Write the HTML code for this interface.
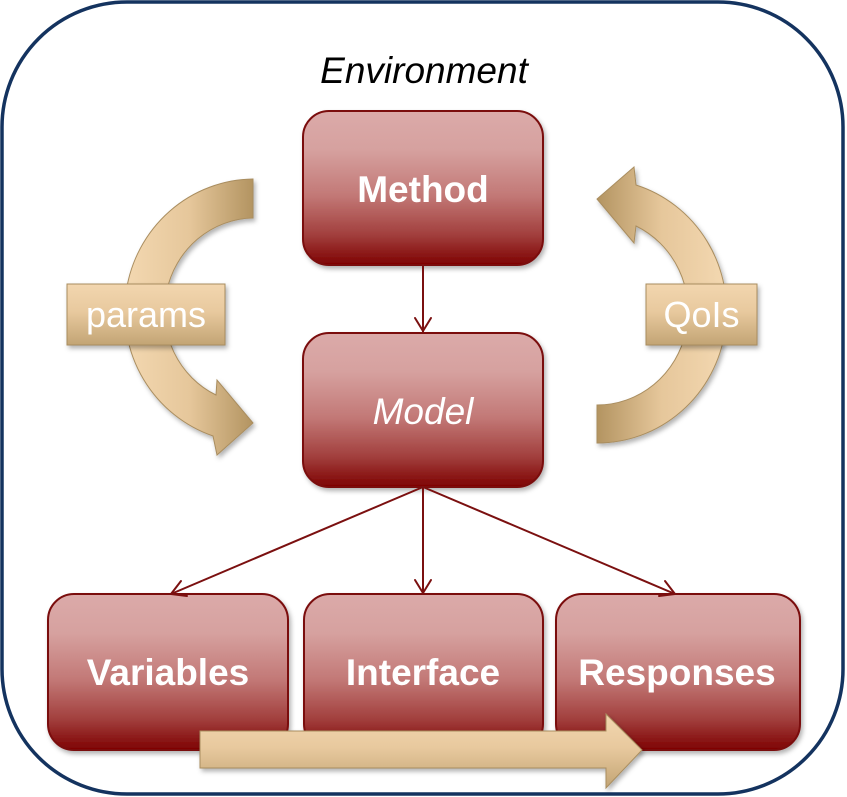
<!DOCTYPE html>
<html>
<head>
<meta charset="utf-8">
<style>
html,body{margin:0;padding:0;background:#fff;}
svg{display:block;}
text{font-family:"Liberation Sans",Arial,sans-serif;}
</style>
</head>
<body>
<svg width="847" height="797" viewBox="0 0 847 797" xmlns="http://www.w3.org/2000/svg">
<defs>
  <linearGradient id="red" x1="0" y1="0" x2="0" y2="1">
    <stop offset="0" stop-color="#dbaaa9"/>
    <stop offset="0.25" stop-color="#d6a19f"/>
    <stop offset="0.55" stop-color="#c27876"/>
    <stop offset="0.8" stop-color="#a2403e"/>
    <stop offset="1" stop-color="#7e0202"/>
  </linearGradient>
  <linearGradient id="tanV" x1="0" y1="0" x2="0" y2="1">
    <stop offset="0" stop-color="#f2d6af"/>
    <stop offset="0.45" stop-color="#e8c99e"/>
    <stop offset="1" stop-color="#c2a474"/>
  </linearGradient>
  <linearGradient id="tanL" gradientUnits="userSpaceOnUse" x1="125" y1="0" x2="253" y2="0">
    <stop offset="0" stop-color="#f3d8b1"/>
    <stop offset="0.5" stop-color="#e6c79b"/>
    <stop offset="1" stop-color="#b39461"/>
  </linearGradient>
  <linearGradient id="tanR" gradientUnits="userSpaceOnUse" x1="597" y1="0" x2="726" y2="0">
    <stop offset="0" stop-color="#b39461"/>
    <stop offset="0.5" stop-color="#e6c79b"/>
    <stop offset="1" stop-color="#f3d8b1"/>
  </linearGradient>
  <filter id="sh" x="-10%" y="-10%" width="125%" height="130%">
    <feDropShadow dx="2" dy="3" stdDeviation="2.5" flood-color="#000" flood-opacity="0.3"/>
  </filter>
</defs>

<!-- outer environment border -->
<rect x="2" y="2" width="841" height="792" rx="125" ry="125" fill="#fff" stroke="#14335f" stroke-width="3.5"/>

<text x="424" y="83" font-size="37" font-style="italic" text-anchor="middle" fill="#000">Environment</text>

<!-- curved arrows -->
<path d="M253,179 A130,132 0 0 0 213,436 L217,455 L253,423 L217,380 L216,395 A90,93 0 0 1 253,218 Z" fill="url(#tanL)" stroke="#a98d5f" stroke-width="1" filter="url(#sh)"/>
<path d="M597,443 A129,132 0 0 0 636,185 L634,167 L597,199 L634,243 L636,226 A91,94 0 0 1 597,405 Z" fill="url(#tanR)" stroke="#a98d5f" stroke-width="1" filter="url(#sh)"/>

<!-- label boxes -->
<rect x="67" y="284" width="158" height="61" fill="url(#tanV)" stroke="#a98d5f" stroke-width="1" filter="url(#sh)"/>
<text x="146" y="327" font-size="36" text-anchor="middle" fill="#fff">params</text>
<rect x="646" y="284" width="111" height="61" fill="url(#tanV)" stroke="#a98d5f" stroke-width="1" filter="url(#sh)"/>
<text x="701.5" y="327" font-size="36" text-anchor="middle" fill="#fff">QoIs</text>

<!-- main boxes -->
<g stroke="#7a0a0a" stroke-width="2" fill="url(#red)" filter="url(#sh)">
  <rect x="303" y="111" width="240" height="154" rx="26" ry="26"/>
  <rect x="303" y="333" width="240" height="154" rx="26" ry="26"/>
  <rect x="48" y="594" width="240" height="156" rx="26" ry="26"/>
  <rect x="304" y="594" width="239" height="156" rx="26" ry="26"/>
  <rect x="556" y="594" width="244" height="156" rx="26" ry="26"/>
</g>

<text x="423" y="202" font-size="37" font-weight="bold" text-anchor="middle" fill="#fff">Method</text>
<text x="423" y="424" font-size="37" font-style="italic" text-anchor="middle" fill="#fff">Model</text>
<text x="168" y="685" font-size="37" font-weight="bold" text-anchor="middle" fill="#fff">Variables</text>
<text x="423" y="685" font-size="37" font-weight="bold" text-anchor="middle" fill="#fff">Interface</text>
<text x="677" y="685" font-size="37" font-weight="bold" text-anchor="middle" fill="#fff">Responses</text>

<!-- connectors -->
<g stroke="#7b1010" stroke-width="2" fill="none" stroke-linecap="round" stroke-linejoin="round">
  <line x1="423" y1="265" x2="423" y2="332"/>
  <polyline points="415,318 423,331 431,318"/>
  <line x1="423" y1="487" x2="171" y2="594"/>
  <polyline points="181,581 171,594 187,596"/>
  <line x1="423" y1="487" x2="423" y2="593"/>
  <polyline points="415,580 423,593 431,580"/>
  <line x1="423" y1="487" x2="675" y2="594"/>
  <polyline points="665,581 675,594 659,596"/>
</g>

<!-- bottom flow arrow -->
<path d="M200,731 L606,731 L606,714 L642,750 L606,788 L606,768 L200,768 Z" fill="url(#tanV)" stroke="#a98d5f" stroke-width="1" filter="url(#sh)"/>
</svg>
</body>
</html>
